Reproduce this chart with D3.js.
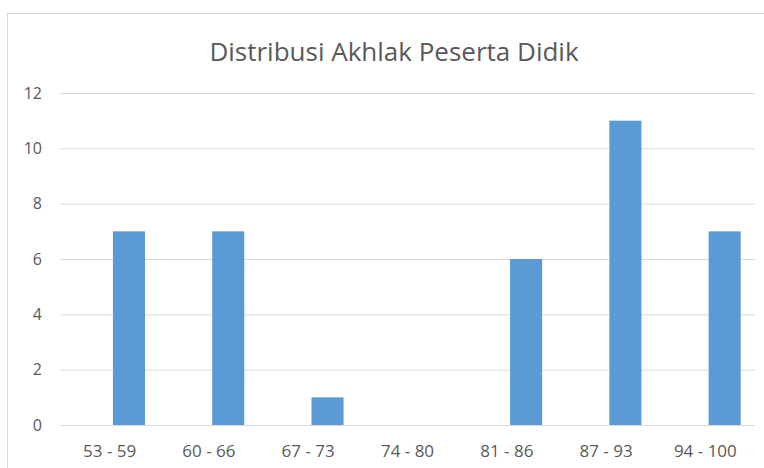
<!DOCTYPE html>
<html>
<head>
<meta charset="utf-8">
<script src="https://cdn.jsdelivr.net/npm/d3@7"></script>
<style>
  html, body { margin: 0; padding: 0; background: #fff; }
  svg { display: block; }
</style>
</head>
<body>
<svg id="chart" width="764" height="468"></svg>
<script>
const categories = ["53 - 59", "60 - 66", "67 - 73", "74 - 80", "81 - 86", "87 - 93", "94 - 100"];
const values = [7, 7, 1, 0, 6, 11, 7];
const yTicks = [0, 2, 4, 6, 8, 10, 12];
const title = "Distribusi Akhlak Peserta Didik";

const svg = d3.select("#chart");
const W = 764, H = 468;
const margin = { left: 60, right: 9, top: 93, bottom: 43 };

svg.append("rect").attr("width", W).attr("height", H).attr("fill", "#fff");
svg.append("rect")
  .attr("x", 7.5).attr("y", 13.5).attr("width", 820).attr("height", 520)
  .attr("fill", "none").attr("stroke", "#d9d9d9").attr("stroke-width", 1);

const x = d3.scaleBand().domain(categories).range([margin.left, W - margin.right]).padding(0);
const inner = d3.scaleBand().domain(["s0", "s1"])
  .range([x.bandwidth() * 0.144, x.bandwidth() * 0.856]).paddingInner(0.17).paddingOuter(0);
const y = d3.scaleLinear().domain([0, 12]).range([H - margin.bottom, margin.top]);

const fontFamily = "'Open Sans', 'Noto Sans', sans-serif";

// gridlines
const grid = svg.append("g")
  .attr("transform", `translate(${margin.left},0)`)
  .call(d3.axisLeft(y).tickValues(yTicks).tickSize(-(W - margin.right - margin.left)).tickFormat(""));
grid.select(".domain").remove();
grid.selectAll("line").attr("stroke", "#d9d9d9").attr("stroke-width", 1);

// y labels
const yAxis = svg.append("g")
  .attr("transform", `translate(${margin.left - 18},0)`)
  .call(d3.axisLeft(y).tickValues(yTicks).tickSize(0).tickPadding(0));
yAxis.select(".domain").remove();
yAxis.selectAll("text")
  .attr("font-family", fontFamily).attr("font-size", 16).attr("fill", "#595959");

// bars
svg.append("g").selectAll("rect").data(values).join("rect")
  .attr("x", (d, i) => x(categories[i]) + inner("s1"))
  .attr("width", inner.bandwidth())
  .attr("y", d => y(d))
  .attr("height", d => y(0) - y(d))
  .attr("fill", "#5b9bd5");

// x labels
const xAxis = svg.append("g")
  .attr("transform", `translate(0,${H - margin.bottom})`)
  .call(d3.axisBottom(x).tickSize(0).tickPadding(0));
xAxis.select(".domain").remove();
xAxis.selectAll("text")
  .attr("dy", null).attr("y", 32)
  .attr("font-family", fontFamily).attr("font-size", 17).attr("fill", "#595959");

// title
svg.append("text")
  .attr("x", 394).attr("y", 61)
  .attr("text-anchor", "middle")
  .attr("font-family", fontFamily).attr("font-size", 26).attr("fill", "#595959")
  .text(title);
</script>
</body>
</html>
